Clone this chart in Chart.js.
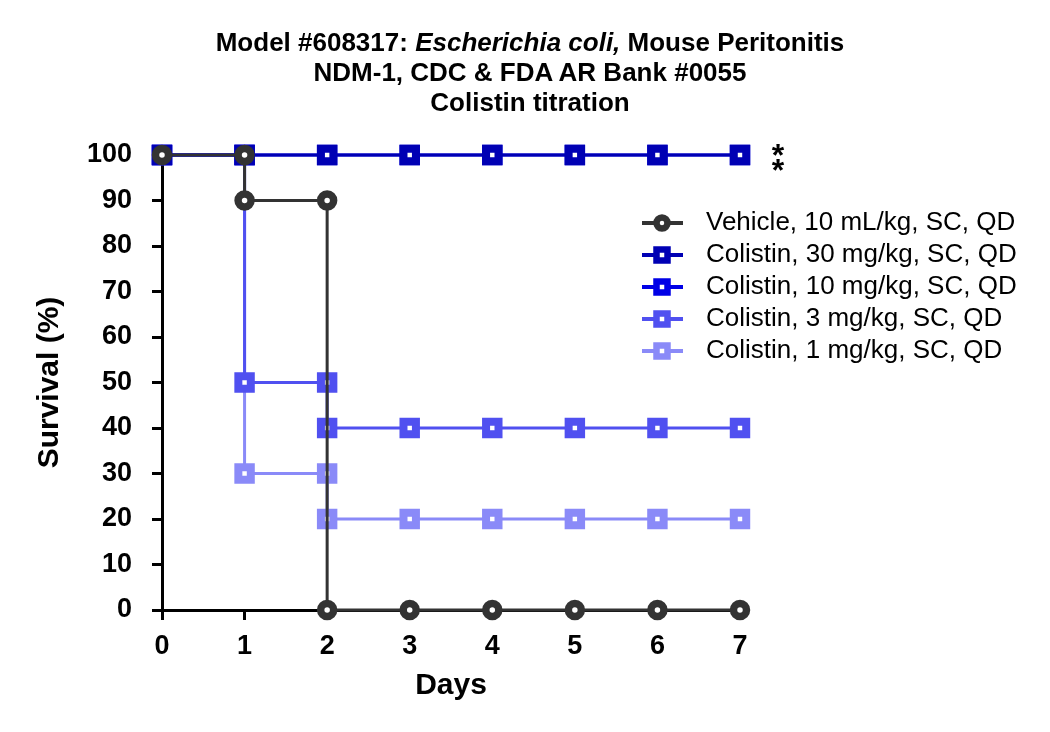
<!DOCTYPE html>
<html>
<head>
<meta charset="utf-8">
<title>Colistin titration</title>
<script src="https://cdn.jsdelivr.net/npm/chart.js@4/dist/chart.umd.min.js"></script>
<style>
  body { margin: 0; background: #fff; }
  #wrap { position: relative; width: 1050px; height: 732px; }
  #title {
    position: absolute; top: 27px; left: 0; width: 1060px;
    text-align: center; font: bold 26px "Liberation Sans", Arial, sans-serif;
    line-height: 30px; color: #000;
  }
  canvas { position: absolute; left: 0; top: 0; }
</style>
</head>
<body>
<div id="wrap">
  <canvas id="survivalChart" width="1050" height="732"></canvas>
  <div id="title">
    Model #608317: <i>Escherichia coli,</i> Mouse Peritonitis<br>
    NDM-1, CDC &amp; FDA AR Bank #0055<br>
    Colistin titration
  </div>
</div>
<script>
// Survival data (days vs % surviving); drops listed as two points on the same day
const seriesLabels = [
  'Vehicle, 10 mL/kg, SC, QD',
  'Colistin, 30 mg/kg, SC, QD',
  'Colistin, 10 mg/kg, SC, QD',
  'Colistin, 3 mg/kg, SC, QD',
  'Colistin, 1 mg/kg, SC, QD'
];
const vehicleDays = [0, 1, 1, 2, 2, 3, 4, 5, 6, 7];
const vehicleSurvival = [100, 100, 90, 90, 0, 0, 0, 0, 0, 0];
const col30Days = [0, 1, 2, 3, 4, 5, 6, 7];
const col30Survival = [100, 100, 100, 100, 100, 100, 100, 100];
const col10Days = [0, 1, 2, 3, 4, 5, 6, 7];
const col10Survival = [100, 100, 100, 100, 100, 100, 100, 100];
const col3Days = [0, 1, 1, 2, 2, 3, 4, 5, 6, 7];
const col3Survival = [100, 100, 50, 50, 40, 40, 40, 40, 40, 40];
const col1Days = [0, 1, 1, 2, 2, 3, 4, 5, 6, 7];
const col1Survival = [100, 100, 30, 30, 20, 20, 20, 20, 20, 20];
const xTicks = [0, 1, 2, 3, 4, 5, 6, 7];
const yTicks = [0, 10, 20, 30, 40, 50, 60, 70, 80, 90, 100];

const colors = ['#333333', '#0000b4', '#0000e6', '#5050f0', '#8a8af8'];

function toPoints(days, values) {
  return days.map((d, i) => ({ x: d, y: values[i] }));
}

const allData = [
  toPoints(vehicleDays, vehicleSurvival),
  toPoints(col30Days, col30Survival),
  toPoints(col10Days, col10Survival),
  toPoints(col3Days, col3Survival),
  toPoints(col1Days, col1Survival)
];

const datasets = allData.map((pts, i) => {
  const isCircle = i === 0;
  return {
    label: seriesLabels[i],
    data: pts,
    borderColor: colors[i],
    borderWidth: 3,
    stepped: 'before',
    fill: false,
    clip: false,
    pointStyle: isCircle ? 'circle' : 'rect',
    pointRadius: isCircle ? 6.5 : 8.8,
    pointBorderWidth: isCircle ? 7.5 : 8,
    pointBorderColor: colors[i],
    pointBackgroundColor: '#ffffff'
  };
});

// legend + significance stars drawn on the canvas
const extras = {
  id: 'extras',
  afterDraw(chart) {
    const c = chart.ctx;
    c.save();
    chart.data.datasets.forEach((ds, i) => {
      const y = 223 + i * 32;
      c.strokeStyle = ds.borderColor;
      c.lineWidth = 4;
      c.beginPath();
      c.moveTo(642, y);
      c.lineTo(683, y);
      c.stroke();
      c.fillStyle = '#fff';
      c.lineWidth = 6.5;
      if (ds.pointStyle === 'circle') {
        c.beginPath();
        c.arc(662, y, 5.5, 0, Math.PI * 2);
        c.fill();
        c.stroke();
      } else {
        c.fillRect(656.5, y - 5.5, 11, 11);
        c.strokeRect(656.5, y - 5.5, 11, 11);
      }
      c.fillStyle = '#000';
      c.font = '26px "Liberation Sans", Arial, sans-serif';
      c.textAlign = 'left';
      c.textBaseline = 'middle';
      c.fillText(ds.label, 706, y);
    });

    const xs = chart.scales.x;
    const ys = chart.scales.y;
    const sx = xs.getPixelForValue(7) + 38;
    const sy = ys.getPixelForValue(100);
    c.font = 'bold 32px "Liberation Sans", Arial, sans-serif';
    c.textAlign = 'center';
    c.textBaseline = 'alphabetic';
    c.fillText('*', sx, sy + 11);
    c.fillText('*', sx, sy + 26);
    c.restore();
  }
};

const tickFont = { family: '"Liberation Sans", Arial, sans-serif', size: 27, weight: 'bold' };
const titleFont = { family: '"Liberation Sans", Arial, sans-serif', size: 30, weight: 'bold' };

new Chart(document.getElementById('survivalChart'), {
  type: 'line',
  data: { datasets: datasets },
  options: {
    responsive: false,
    animation: false,
    layout: { padding: { left: 0, right: 310, top: 155, bottom: 0 } },
    plugins: {
      legend: { display: false },
      tooltip: { enabled: false }
    },
    scales: {
      x: {
        type: 'linear',
        min: 0,
        max: 7,
        afterBuildTicks: (scale) => { scale.ticks = xTicks.map(v => ({ value: v })); },
        afterFit: (scale) => { scale.height = 122; },
        ticks: { color: '#000', font: tickFont, padding: 10 },
        grid: { drawOnChartArea: false, drawTicks: true, tickLength: 10, tickWidth: 3, tickColor: '#000' },
        border: { color: '#000', width: 3 },
        title: { display: true, text: 'Days', color: '#000', font: titleFont, padding: { top: 0, bottom: 28 } }
      },
      y: {
        min: 0,
        max: 100,
        afterBuildTicks: (scale) => { scale.ticks = yTicks.map(v => ({ value: v })); },
        afterFit: (scale) => { scale.width = 162; },
        ticks: { color: '#000', font: tickFont, padding: 20 },
        grid: { drawOnChartArea: false, drawTicks: true, tickLength: 10, tickWidth: 3, tickColor: '#000' },
        border: { color: '#000', width: 3 },
        title: { display: true, text: 'Survival (%)', color: '#000', font: titleFont, padding: { top: 32, bottom: 0 } }
      }
    }
  },
  plugins: [extras]
});
</script>
</body>
</html>
